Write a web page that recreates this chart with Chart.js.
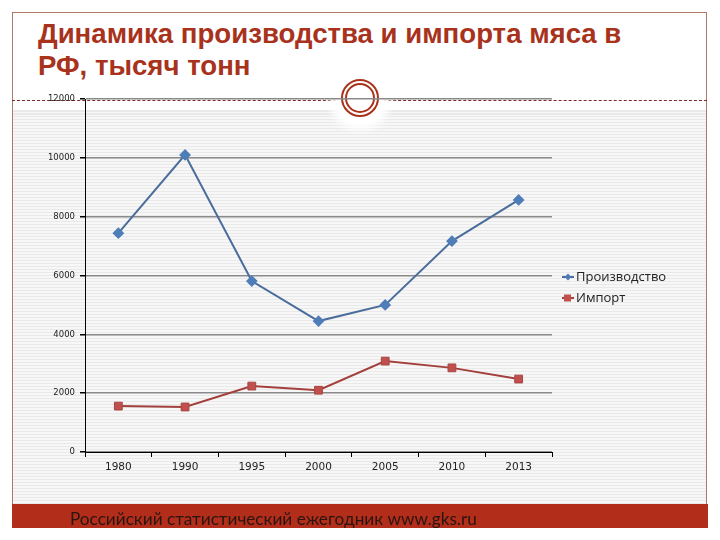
<!DOCTYPE html>
<html>
<head>
<meta charset="utf-8">
<script src="https://cdn.jsdelivr.net/npm/chart.js@4.4.1/dist/chart.umd.min.js"></script>
<style>
  body { margin: 0; background: #fff; }
  #slide { position: relative; width: 720px; height: 540px; overflow: hidden; background: #fff; }
  #frame { position: absolute; left: 12px; top: 12px; width: 695px; height: 516px; border: 1px solid #b07a68; box-sizing: border-box; }
  #stripes { position: absolute; left: 13px; top: 110px; width: 694px; height: 394px;
    background: repeating-linear-gradient(to bottom, #e9e9e9 0px, #e9e9e9 1.5px, #f7f7f7 1.5px, #f7f7f7 3px); }
  #dash { position: absolute; left: 12px; top: 100px; width: 695px; border-top: 1px dashed #7a2a2a; }
  #glow { position: absolute; left: 336px; top: 76px; width: 48px; height: 48px; border-radius: 50%;
    background: #fff; box-shadow: 0 0 8px 6px #fff; }
  #ring { position: absolute; left: 341px; top: 79px; width: 38px; height: 38px; border-radius: 50%;
    box-sizing: border-box; border: 2px solid #a8321c; }
  #ring2 { position: absolute; left: 345px; top: 83px; width: 30px; height: 30px; border-radius: 50%;
    box-sizing: border-box; border: 2px solid #a8321c; }
  #bar { position: absolute; left: 12px; top: 504px; width: 696px; height: 24px; background: #b22e1a; }
  #title { position: absolute; left: 38px; top: 18px; font-family: "Liberation Sans", Arial, sans-serif;
    font-weight: bold; font-size: 27.6px; line-height: 32px; color: #a8321c; white-space: nowrap; }
  #footer { position: absolute; left: 70px; top: 508px; font-family: Lato, sans-serif; font-size: 17.2px;
    color: #2a1510; white-space: nowrap; }
  canvas { position: absolute; left: 0; top: 0; }
</style>
</head>
<body>
<div id="slide">
  <div id="stripes"></div>
  <div id="frame"></div>
  <div id="dash"></div>
  <div id="glow"></div>
  <div id="ring"></div>
  <div id="ring2"></div>
  <div id="bar"></div>
  <div id="title">Динамика производства и импорта мяса в<br>РФ, тысяч тонн</div>
  <canvas id="myChart" width="720" height="540"></canvas>
  <div id="footer">Российский статистический ежегодник www.gks.ru</div>
</div>
<script>
// ----- data -----
const years = ['1980', '1990', '1995', '2000', '2005', '2010', '2013'];
const production = [7440, 10100, 5810, 4450, 5000, 7170, 8570];
const importData = [1560, 1530, 2240, 2100, 3090, 2860, 2480];
const seriesNames = ['Производство', 'Импорт'];

// legend drawn by hand, Excel style
const sideLegend = {
    id: 'sideLegend',
    afterDraw(chart) {
        const c = chart.ctx;
        const rows = [
            { y: 277, ds: chart.data.datasets[0] },
            { y: 298, ds: chart.data.datasets[1] },
        ];
        c.save();
        rows.forEach(r => {
            c.strokeStyle = r.ds.borderColor;
            c.lineWidth = 2;
            c.beginPath();
            c.moveTo(562, r.y);
            c.lineTo(574, r.y);
            c.stroke();
            c.fillStyle = r.ds.pointBackgroundColor;
            if (r.ds.pointStyle === 'rectRot') {
                c.beginPath();
                c.moveTo(568, r.y - 3.5);
                c.lineTo(571.5, r.y);
                c.lineTo(568, r.y + 3.5);
                c.lineTo(564.5, r.y);
                c.closePath();
                c.fill();
            } else {
                c.fillRect(564, r.y - 3.5, 7, 7);
            }
            c.fillStyle = '#222';
            c.font = '13px "Open Sans", sans-serif';
            c.textBaseline = 'middle';
            c.textAlign = 'left';
            c.fillText(r.ds.label, 576, r.y);
        });
        c.restore();
    }
};

const ctx = document.getElementById('myChart').getContext('2d');
const chart = new Chart(ctx, {
    type: 'line',
    data: {
        labels: years,
        datasets: [
            {
                label: seriesNames[0],
                data: production,
                borderColor: '#4a6d9c',
                borderWidth: 2,
                pointStyle: 'rectRot',
                pointRadius: 4.5,
                pointBackgroundColor: '#4f7db8',
                pointBorderColor: '#4f7db8',
                tension: 0,
            },
            {
                label: seriesNames[1],
                data: importData,
                borderColor: '#a4403c',
                borderWidth: 2,
                pointStyle: 'rect',
                pointRadius: 5.5,
                pointBackgroundColor: '#c0504d',
                pointBorderColor: '#a84442',
                pointBorderWidth: 1,
                tension: 0,
            },
        ],
    },
    options: {
        responsive: false,
        animation: false,
        layout: { padding: { left: 0, top: 99, right: 168, bottom: 0 } },
        plugins: {
            legend: { display: false },
            title: { display: false },
            tooltip: { enabled: false },
        },
        scales: {
            x: {
                offset: true,
                afterFit: axis => { axis.height = 88; },
                grid: { drawOnChartArea: false, tickLength: 5, tickColor: '#000', offset: true },
                border: { color: '#000', width: 1 },
                ticks: { color: '#222', padding: 4, font: { family: 'DejaVu Sans', size: 10.5 } },
            },
            y: {
                min: 0,
                max: 12000,
                afterFit: axis => { axis.width = 85; },
                grid: { color: '#8a8a8a', lineWidth: 1.5, tickLength: 5, tickColor: '#000' },
                border: { color: '#000', width: 1 },
                ticks: {
                    stepSize: 2000,
                    color: '#222',
                    padding: 5,
                    font: { family: 'DejaVu Sans', size: 8.5 },
                    callback: v => String(v),
                },
            },
        },
    },
    plugins: [sideLegend],
});
</script>
</body>
</html>
